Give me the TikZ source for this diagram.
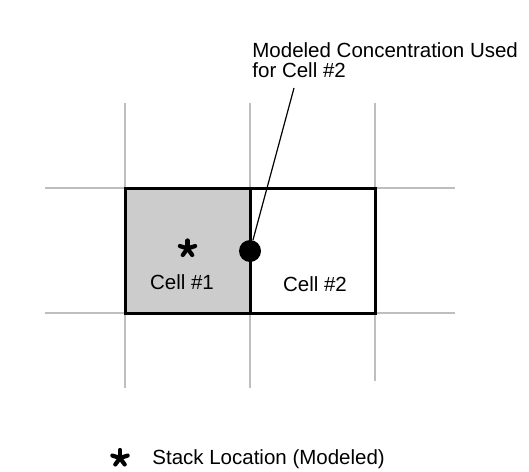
\documentclass[tikz,border=0pt]{standalone}
\usepackage{fontspec}
\setmainfont{Liberation Sans}
\usetikzlibrary{positioning}

\definecolor{gridgray}{RGB}{190,190,190}
\definecolor{cellgray}{RGB}{204,204,204}

\tikzset{
  gridline/.style={draw=gridgray,line width=1pt},
  cellline/.style={draw=black,line width=1.5pt},
  txt/.style={font=\fontsize{10.25}{10}\selectfont,inner sep=0pt},
  stackmark/.pic={
    \foreach \a in {270,342,54,126,198} {
      \draw[line width=2.1pt,line cap=round] (0,0) -- (\a:8);
    };
  }
}

\begin{document}
\begin{tikzpicture}[x=0.5pt,y=-0.5pt]
\useasboundingbox[fill=white] (0,0) rectangle (529,471);

% background grid
\foreach \x in {125,250} {
\draw[gridline] (\x,103) -- (\x,388);
}
\draw[gridline] (375,103) -- (375,381);
\foreach \y in {188,313} {
\draw[gridline] (45,\y) -- (455,\y);
}

% the two cells
\fill[cellgray] (125,188) rectangle (250,313);
\draw[cellline] (125,188) rectangle (375,313);
\draw[cellline] (250,188) -- (250,313);

\pic at (187.5,248.5) {stackmark};
\node (cell1) at (182,289) [txt,anchor=base] {Cell \#1};
\node (cell2) at (315,291) [txt,anchor=base] {Cell \#2};

% receptor point and its label
\node (dot) at (250,251) [circle,fill=black,inner sep=0pt,minimum size=11pt] {};
\node (lbl) at (252,77) [txt,anchor=base west,align=left] {Modeled Concentration Used\\for Cell \#2};
\coordinate (tip) at (294,88);
\draw[line width=0.6pt] (tip) -- (dot);

% legend
\pic at (120,458) {stackmark};
\node (leg) at (152,464) [txt,anchor=base west] {Stack Location (Modeled)};
\end{tikzpicture}
\end{document}
